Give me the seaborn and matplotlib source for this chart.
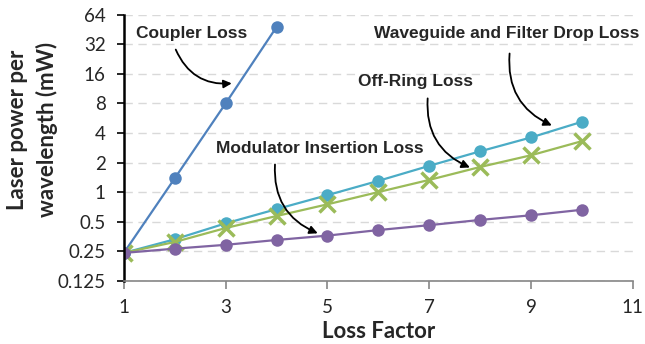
import numpy as np
import pandas as pd
import matplotlib
matplotlib.use("Agg")
import matplotlib.pyplot as plt
import seaborn as sns

loss_factor = [1, 2, 3, 4, 5, 6, 7, 8, 9, 10]
coupler = [0.24, 1.38, 8.0, 48]
waveguide = [0.24, 0.33, 0.48, 0.67, 0.93, 1.3, 1.85, 2.6, 3.6, 5.2]
off_ring = [0.24, 0.31, 0.43, 0.57, 0.75, 1.0, 1.33, 1.8, 2.37, 3.3]
modulator = [0.24, 0.265, 0.29, 0.325, 0.36, 0.41, 0.46, 0.52, 0.58, 0.66]

y_ticks = [0.125, 0.25, 0.5, 1, 2, 4, 8, 16, 32, 64]
y_tick_labels = ["0.125", "0.25", "0.5", "1", "2", "4", "8", "16", "32", "64"]
x_ticks = [1, 3, 5, 7, 9, 11]

sns.set_style("white")
plt.rcParams['font.family'] = ['Lato', 'DejaVu Sans']

fig = plt.figure(figsize=(6.45, 3.44), dpi=100)
ax = fig.add_axes([0.192, 0.184, 0.789, 0.773])

sns.lineplot(x=loss_factor[:4], y=coupler, ax=ax, color='#4F81BD', lw=1.6,
             marker='o', markersize=9, markeredgewidth=0)
sns.lineplot(x=loss_factor, y=waveguide, ax=ax, color='#4BACC6', lw=1.6,
             marker='o', markersize=9, markeredgewidth=0)
sns.lineplot(x=loss_factor, y=off_ring, ax=ax, color='#9BBB59', lw=1.6,
             marker='x', markersize=11, markeredgewidth=2.5,
             markeredgecolor='#9BBB59')
sns.lineplot(x=loss_factor, y=modulator, ax=ax, color='#8064A2', lw=1.6,
             marker='o', markersize=9, markeredgewidth=0)

ax.set_yscale('log', base=2)
ax.set_ylim(0.125, 64)
ax.set_xlim(1, 11)
ax.set_yticks(y_ticks)
ax.set_yticklabels(y_tick_labels)
ax.minorticks_off()
ax.set_xticks(x_ticks)

ax.yaxis.grid(True, color='#d9d9d9', linestyle=(0, (6, 4)), lw=1)
ax.set_axisbelow(True)
for s in ['top', 'right']:
    ax.spines[s].set_visible(False)
ax.spines['left'].set_color('black')
ax.spines['left'].set_linewidth(1.8)
ax.spines['bottom'].set_color('#868686')
ax.spines['bottom'].set_linewidth(1.2)
ax.tick_params(axis='y', left=True, length=5, width=1.2, color='black',
               labelsize=13.5, labelcolor='#262626', pad=8)
ax.tick_params(axis='x', bottom=True, length=6, width=1.2, color='#868686',
               labelsize=13.5, labelcolor='#262626', pad=7)

ax.set_xlabel('Loss Factor', fontsize=16, fontweight='bold', color='#262626', labelpad=4)
ax.set_ylabel('Laser power per\nwavelength (mW)', fontsize=16, fontweight='bold',
              color='#262626', linespacing=1.45, va='center', ha='center')
ax.yaxis.set_label_coords(-0.179, 0.567)

afont = dict(fontsize=12.5, fontweight='bold', color='#262626',
             family=['Liberation Sans', 'DejaVu Sans'], ha='center', va='center')
arrow = dict(arrowstyle='-|>', color='black', lw=1.3, mutation_scale=12,
             connectionstyle='arc3,rad=0.35', shrinkA=0, shrinkB=0)

ax.text(2.34, 41, 'Coupler Loss', **afont)
ax.annotate('', xy=(3.12, 12.8), xytext=(2.02, 28.3), arrowprops=arrow)

ax.text(4.85, 2.78, 'Modulator Insertion Loss', **afont)
ax.annotate('', xy=(4.81, 0.38), xytext=(3.97, 1.91), arrowprops=arrow)

ax.text(6.74, 13.4, 'Off-Ring Loss', **afont)
ax.annotate('', xy=(7.8, 1.78), xytext=(6.97, 9.0), arrowprops=arrow)

ax.text(8.52, 41, 'Waveguide and Filter Drop Loss', **afont)
ax.annotate('', xy=(9.41, 4.77), xytext=(8.58, 25.8), arrowprops=arrow)

fig.savefig('out.png', dpi=100)
